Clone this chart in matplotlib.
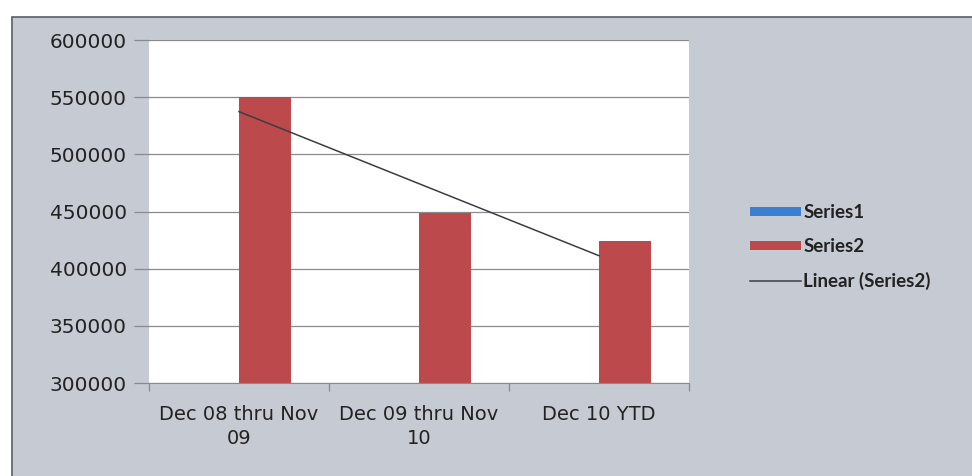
import numpy as np
import matplotlib
matplotlib.use('Agg')
import matplotlib.pyplot as plt
from matplotlib.patches import Rectangle, Patch
from matplotlib.lines import Line2D

categories = ['Dec 08 thru Nov\n09', 'Dec 09 thru Nov\n10', 'Dec 10 YTD']
series1 = [0, 0, 0]
series2 = [550000, 449000, 424000]
yticks = [300000, 350000, 400000, 450000, 500000, 550000, 600000]

plt.rcParams['font.family'] = ['DejaVu Sans']

fig = plt.figure(figsize=(9.72, 4.76), dpi=100)
fig.patch.set_facecolor('white')

# grey chart area with a dark border, kept behind the axes
fig.patches.append(Rectangle((12 / 972, -0.01), 1.0, 1 - 17 / 476 + 0.01,
                             transform=fig.transFigure, facecolor='#c6cad3',
                             edgecolor='#5a5e66', linewidth=1.2, zorder=-10))

ax = fig.add_axes([149 / 972, 1 - 383 / 476, 540 / 972, 343 / 476])
ax.set_facecolor('white')

x = np.arange(1, len(categories) + 1)
w = 0.29
ax.bar(x - w / 2, series1, w, bottom=0, color='#3a7fd0', zorder=2)
ax.bar(x + w / 2, series2, w, color='#bc4a4d', zorder=2)

# linear trendline through Series2
coef = np.polyfit(x, series2, 1)
ax.plot(x, np.polyval(coef, x), color='#3c3c44', linewidth=1.1, zorder=3)

ax.set_xlim(0.5, 3.5)
ax.set_ylim(300000, 600000)
ax.set_yticks(yticks)
ax.set_yticklabels([str(v) for v in yticks], fontsize=14.5, color='#222222')
ax.yaxis.grid(True, color='#8a8a8a', linewidth=0.9, zorder=1)
ax.tick_params(axis='y', length=11, width=0.9, color='#8a8a8a', pad=5)

ax.set_xticks(x)
ax.set_xticklabels(categories, fontsize=14, color='#222222', linespacing=1.35)
ax.set_xticks([0.5, 1.5, 2.5, 3.5], minor=True)
ax.tick_params(axis='x', which='major', length=0, pad=16)
ax.tick_params(axis='x', which='minor', length=6, width=0.9, color='#8a8a8a')

for side in ['top', 'right', 'left']:
    ax.spines[side].set_visible(False)
ax.spines['bottom'].set_color('#8a8a8a')

handles = [Patch(facecolor='#3a7fd0'), Patch(facecolor='#bc4a4d'),
           Line2D([], [], color='#3c3c44', linewidth=1.1)]
labels = ['Series1', 'Series2', 'Linear (Series2)']
leg = fig.legend(handles, labels, loc='center left',
                 bbox_to_anchor=(733 / 972, 1 - 247 / 476), frameon=False,
                 prop={'family': 'Lato', 'weight': 'bold', 'size': 13.5},
                 handlelength=2.7, handleheight=0.4, handletextpad=0.15,
                 labelspacing=0.9)
for t in leg.get_texts():
    t.set_color('#222222')

plt.savefig('out.png', dpi=100)
plt.close()
